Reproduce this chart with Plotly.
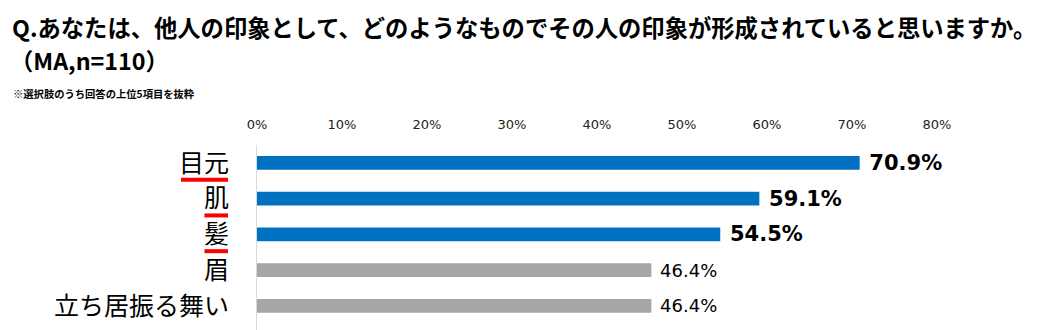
import plotly.graph_objects as go

categories = ["目元", "肌", "髪", "眉", "立ち居振る舞い"]
values = [0.709, 0.591, 0.545, 0.464, 0.464]
highlight = [True, True, True, False, False]
tick_vals = [0, 0.1, 0.2, 0.3, 0.4, 0.5, 0.6, 0.7, 0.8]

title_line1 = "Q.あなたは、他人の印象として、どのようなものでその人の印象が形成されていると思いますか。"
title_line2 = "（MA,n=110）"
note = "※選択肢のうち回答の上位5項目を抜粋"

BLUE = "#0070C0"
GRAY = "#A6A6A6"
FONT = "DejaVu Sans, Noto Sans CJK JP, sans-serif"
JFONT = "Noto Sans CJK JP, DejaVu Sans, sans-serif"

W, H = 1044, 330
L, R, T, B = 257, 107, 145, 0
plot_w = W - L - R

colors = [BLUE if h else GRAY for h in highlight]
texts = [("\u00a0<b>%.1f%%</b>" if h else "\u00a0%.1f%%") % (v * 100) for v, h in zip(values, highlight)]
sizes = [21 if h else 18 for h in highlight]

fig = go.Figure(go.Bar(
    x=values, y=categories, orientation="h",
    marker=dict(color=colors, line=dict(width=0)),
    width=0.39,
    text=texts, textposition="outside", cliponaxis=False, constraintext="none",
    textfont=dict(family=FONT, size=sizes, color="#000000"),
))

# red underlines below highlighted labels
for i, (c, h) in enumerate(zip(categories, highlight)):
    if not h:
        continue
    right = -29
    left = right - 23.5 * len(c)
    fig.add_shape(type="line", xref="paper", yref="y",
                  x0=left / plot_w, x1=right / plot_w,
                  y0=i + 0.47, y1=i + 0.47,
                  line=dict(color="#FF0000", width=4))

fig.add_annotation(text=f"<b>{title_line1}</b>", xref="paper", yref="paper",
                   x=(10 - L) / plot_w, y=1 + (T - 27) / (H - T - B),
                   xanchor="left", yanchor="middle", showarrow=False,
                   font=dict(family=JFONT, size=23.3, color="#000000"))
fig.add_annotation(text=f"<b>{title_line2}</b>", xref="paper", yref="paper",
                   x=(8 - L) / plot_w, y=1 + (T - 60) / (H - T - B),
                   xanchor="left", yanchor="middle", showarrow=False,
                   font=dict(family=JFONT, size=23.3, color="#000000"))
fig.add_annotation(text=f"<b>{note}</b>", xref="paper", yref="paper",
                   x=(11 - L) / plot_w, y=1 + (T - 93) / (H - T - B),
                   xanchor="left", yanchor="middle", showarrow=False,
                   font=dict(family=JFONT, size=10.3, color="#000000"))

fig.update_layout(
    width=W, height=H,
    margin=dict(l=L, r=R, t=T, b=B, pad=0),
    paper_bgcolor="white", plot_bgcolor="white",
    showlegend=False,
    xaxis=dict(side="top", range=[0, 0.8], tickvals=tick_vals, tickformat=".0%",
               showgrid=False, zeroline=False, showline=False,
               tickfont=dict(family=FONT, size=13, color="#222222"),
               ticklabelstandoff=12),
    yaxis=dict(type="category", range=[4.675, -0.5], showgrid=False, zeroline=False,
               showline=True, linecolor="#D9D9D9", linewidth=1,
               tickfont=dict(family=JFONT, size=25, color="#000000"),
               ticklabelstandoff=22),
)

fig.write_html("out.html")
